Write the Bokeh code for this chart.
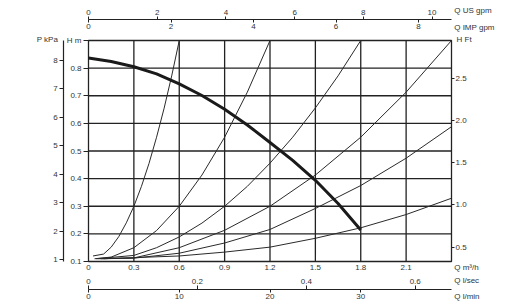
from bokeh.plotting import figure
from bokeh.models import Range1d, LinearAxis, FixedTicker, Label, PrintfTickFormatter
from bokeh.embed import file_html
from bokeh.resources import INLINE

# ---------------- data ----------------
# Pump performance curve: flow Q [m3/h] -> head H [m]
pump_q = [0.0, 0.15, 0.3, 0.45, 0.6, 0.75, 0.9, 1.05, 1.2, 1.35, 1.5, 1.65, 1.8]
pump_h = [0.837, 0.824, 0.805, 0.779, 0.743, 0.701, 0.651, 0.594, 0.531, 0.466, 0.394, 0.31, 0.214]

# System curves (thin), steepest first
sys1_q = [0.03, 0.1, 0.15, 0.2, 0.25, 0.3, 0.35, 0.4, 0.45, 0.5, 0.55, 0.6]
sys1_h = [0.12, 0.127, 0.152, 0.19, 0.24, 0.3, 0.372, 0.455, 0.55, 0.655, 0.772, 0.9]
sys2_q = [0.04, 0.15, 0.3, 0.45, 0.6, 0.75, 0.9, 1.05, 1.2]
sys2_h = [0.11, 0.116, 0.15, 0.212, 0.3, 0.413, 0.55, 0.713, 0.9]
sys3_q = [0.05, 0.3, 0.45, 0.6, 0.75, 0.9, 1.05, 1.2, 1.35, 1.5, 1.65, 1.8]
sys3_h = [0.11, 0.122, 0.15, 0.189, 0.239, 0.3, 0.372, 0.456, 0.55, 0.656, 0.772, 0.9]
sys4_q = [0.06, 0.3, 0.6, 0.9, 1.2, 1.5, 1.8, 2.1, 2.4]
sys4_h = [0.11, 0.113, 0.15, 0.213, 0.3, 0.413, 0.55, 0.713, 0.9]
sys5_q = [0.08, 0.3, 0.6, 0.9, 1.2, 1.5, 1.8, 2.1, 2.4]
sys5_h = [0.11, 0.112, 0.13, 0.167, 0.216, 0.292, 0.375, 0.474, 0.588]
sys6_q = [0.1, 0.6, 0.9, 1.2, 1.5, 1.8, 2.1, 2.4]
sys6_h = [0.11, 0.12, 0.134, 0.152, 0.184, 0.222, 0.27, 0.329]

# Axis ranges and ticks
q_range = [0, 2.4]                    # m3/h
h_range = [0.1, 0.9]                  # m
q_m3h_ticks = [0, 0.3, 0.6, 0.9, 1.2, 1.5, 1.8, 2.1]
q_grid = [0.3, 0.6, 0.9, 1.2, 1.5, 1.8, 2.1]
h_m_ticks = [0.1, 0.2, 0.3, 0.4, 0.5, 0.6, 0.7, 0.8, 0.9]
h_grid = [0.2, 0.3, 0.4, 0.5, 0.6, 0.7, 0.8]
p_kpa_ticks = [1, 2, 3, 4, 5, 6, 7, 8]
p_kpa_at_h = [0.942, 8.687]           # kPa at the bottom / top of the head range
h_ft_ticks = [0.5, 1.0, 1.5, 2.0, 2.5]
q_usgpm_ticks = [0, 2, 4, 6, 8, 10]
q_impgpm_ticks = [0, 2, 4, 6, 8]
q_lsec_ticks = [0, 0.2, 0.4, 0.6]
q_lmin_ticks = [0, 10, 20, 30]

# unit conversions
M3H_TO_USGPM = 4.403
M3H_TO_IMPGPM = 3.666
M3H_TO_LSEC = 1 / 3.6
M3H_TO_LMIN = 1000 / 60
M_TO_FT = 1 / 0.3048

# ---------------- geometry (pixels) ----------------
W, H = 524, 307
BOX_L, BOX_R, BOX_T, BOX_B = 88, 451, 40, 261
xppu = (BOX_R - BOX_L) / (q_range[1] - q_range[0])
yppu = (BOX_B - BOX_T) / (h_range[1] - h_range[0])
x0 = q_range[0] - BOX_L / xppu
x1 = q_range[1] + (W - BOX_R) / xppu
y0 = h_range[0] - (H - BOX_B) / yppu
y1 = h_range[1] + BOX_T / yppu


def X(px):
    return x0 + px / xppu


def Y(py):
    return y1 - py / yppu


def kpa(h):
    return p_kpa_at_h[0] + (h - h_range[0]) * (p_kpa_at_h[1] - p_kpa_at_h[0]) / (h_range[1] - h_range[0])


LINE = "#222222"
CURVE = "#2a2a2a"
TXT = "#333333"
FONT = "Liberation Sans"
FS = "8px"

p = figure(width=W, height=H, output_backend="svg", toolbar_location=None,
           x_range=Range1d(x0, x1), y_range=Range1d(y0, y1), min_border=0)
p.min_border_left = p.min_border_right = p.min_border_top = p.min_border_bottom = 0
p.background_fill_color = "white"
p.border_fill_color = "white"
p.outline_line_color = None
p.grid.visible = False

p.extra_x_ranges = {
    "usgpm": Range1d(x0 * M3H_TO_USGPM, x1 * M3H_TO_USGPM),
    "impgpm": Range1d(x0 * M3H_TO_IMPGPM, x1 * M3H_TO_IMPGPM),
    "lsec": Range1d(x0 * M3H_TO_LSEC, x1 * M3H_TO_LSEC),
    "lmin": Range1d(x0 * M3H_TO_LMIN, x1 * M3H_TO_LMIN),
}
p.extra_y_ranges = {
    "kpa": Range1d(kpa(y0), kpa(y1)),
    "ft": Range1d(y0 * M_TO_FT, y1 * M_TO_FT),
}

# grid lines and chart box
p.segment(x0=q_grid, x1=q_grid, y0=[h_range[0]] * len(q_grid), y1=[h_range[1]] * len(q_grid),
          line_color=LINE, line_width=1.3)
p.segment(x0=[q_range[0]] * len(h_grid), x1=[q_range[1]] * len(h_grid), y0=h_grid, y1=h_grid,
          line_color=LINE, line_width=1.3)
p.quad(left=[q_range[0]], right=[q_range[1]], bottom=[h_range[0]], top=[h_range[1]],
       fill_color=None, line_color=LINE, line_width=1.3)


def style(ax, tick_out, tick_in, standoff, line=True):
    ax.major_tick_out = tick_out
    ax.major_tick_in = tick_in
    ax.minor_tick_line_color = None
    ax.major_tick_line_color = LINE
    ax.major_tick_line_width = 1
    ax.axis_line_color = LINE if line else None
    ax.axis_line_width = 1.2
    ax.major_label_standoff = standoff
    ax.major_label_text_font = FONT
    ax.major_label_text_font_size = FS
    ax.major_label_text_color = TXT


# Q m3/h along the bottom of the box
xa = p.xaxis[0]
xa.ticker = FixedTicker(ticks=q_m3h_ticks)
xa.formatter = PrintfTickFormatter(format="%.1f")
xa.major_label_overrides = {0: "0"}
xa.fixed_location = h_range[0]
xa.bounds = tuple(q_range)
style(xa, 0, 0, 3, line=False)

# H m along the left of the box
ya = p.yaxis[0]
ya.ticker = FixedTicker(ticks=h_m_ticks)
ya.formatter = PrintfTickFormatter(format="%.1f")
ya.major_label_overrides = {0.9: "H m"}
ya.fixed_location = q_range[0]
ya.bounds = tuple(h_range)
style(ya, 5, 0, 2, line=False)

# H ft on the right edge
ft = LinearAxis(y_range_name="ft", ticker=FixedTicker(ticks=h_ft_ticks),
                formatter=PrintfTickFormatter(format="%.1f"),
                fixed_location=q_range[1], bounds=(h_range[0] * M_TO_FT, h_range[1] * M_TO_FT))
style(ft, 3, 0, 1, line=False)
p.add_layout(ft, "right")

# P kPa, separate line left of the box
kp = LinearAxis(y_range_name="kpa", ticker=FixedTicker(ticks=p_kpa_ticks),
                fixed_location=X(63.3), bounds=(kpa(h_range[0]), kpa(h_range[1])))
style(kp, 4, 0, 2)
p.add_layout(kp, "left")

top_loc = Y(19.3)
bot_loc = Y(289.3)

us = LinearAxis(x_range_name="usgpm", ticker=FixedTicker(ticks=q_usgpm_ticks),
                fixed_location=top_loc, bounds=(0, q_range[1] * M3H_TO_USGPM))
style(us, 3, 0, 2)
p.add_layout(us, "above")

imp = LinearAxis(x_range_name="impgpm", ticker=FixedTicker(ticks=q_impgpm_ticks),
                 fixed_location=top_loc, bounds=(0, q_range[1] * M3H_TO_IMPGPM))
style(imp, 3, 0, 1, line=False)
p.add_layout(imp, "below")

ls = LinearAxis(x_range_name="lsec", ticker=FixedTicker(ticks=q_lsec_ticks),
                formatter=PrintfTickFormatter(format="%.1f"),
                fixed_location=bot_loc, bounds=(0, q_range[1] * M3H_TO_LSEC))
ls.major_label_overrides = {0: "0"}
style(ls, 4, 0, 2)
p.add_layout(ls, "above")

lm = LinearAxis(x_range_name="lmin", ticker=FixedTicker(ticks=q_lmin_ticks),
                fixed_location=bot_loc, bounds=(0, q_range[1] * M3H_TO_LMIN))
style(lm, 3, 0, 1, line=False)
p.add_layout(lm, "below")

# curves
for qs, hs in [(sys1_q, sys1_h), (sys2_q, sys2_h), (sys3_q, sys3_h),
               (sys4_q, sys4_h), (sys5_q, sys5_h), (sys6_q, sys6_h)]:
    p.line(qs, hs, line_color=CURVE, line_width=1.0)
p.line(pump_q, pump_h, line_color="#1a1a1a", line_width=3.0, line_join="round")


# axis names
def lab(text, px, py, align="left"):
    p.add_layout(Label(x=X(px), y=Y(py), text=text,
                       text_font=FONT, text_font_size=FS, text_color=TXT,
                       text_align=align, text_baseline="middle"))


lab("Q US gpm", 453.7, 10)
lab("Q IMP gpm", 453.7, 27)
lab("H Ft", 456, 39)
lab("P kPa", 57.5, 39, align="right")
lab("Q m\u00b3/h", 453.7, 267)
lab("Q l/sec", 453.7, 280)
lab("Q l/min", 453.7, 295.5)

open("out.html", "w").write(file_html(p, INLINE))
